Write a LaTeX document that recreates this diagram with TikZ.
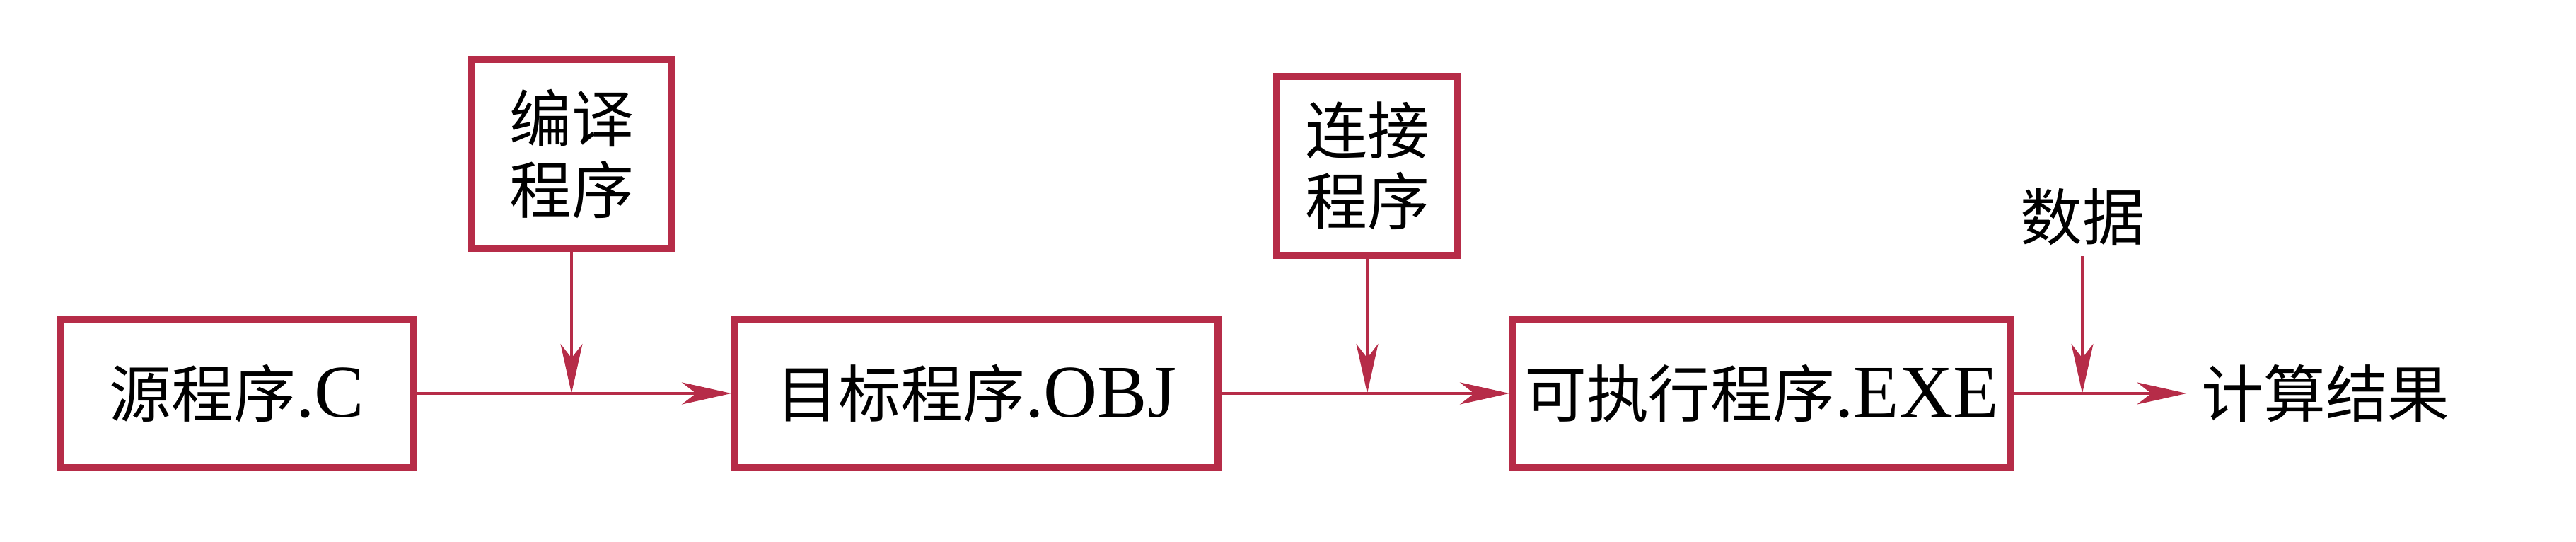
\documentclass[tikz,border=0pt]{standalone}
\usepackage{fontspec}
\setmainfont{Liberation Serif}[Scale=1.2]
\newfontfamily\cjk{Noto Sans CJK SC}
\usetikzlibrary{arrows.meta}
\definecolor{boxred}{RGB}{182,44,72}

\begin{document}
\begin{tikzpicture}[
        font=\fontsize{25}{28.5}\selectfont,
        prog/.style={draw=boxred, line width=2.8pt, minimum height=2.1cm, inner sep=0pt},
        tool/.style={draw=boxred, line width=2.8pt, align=center, inner sep=0pt, font=\fontsize{25}{28.5}\selectfont\cjk},
        flow/.style={draw=boxred, line width=1.4pt, -{Stealth[length=7mm, width=3.1mm, inset=2mm]}},
        feed/.style={draw=boxred, line width=0.9pt, -{Stealth[length=7mm, width=3.1mm, inset=2mm]}}
    ]
        \useasboundingbox (0, 0) rectangle (36.42, 7.66);

        \node[prog, minimum width=4.98cm] (source) at (3.35, 2.1) {{\cjk 源程序}.C};
        \node[prog, minimum width=6.83cm] (object) at (13.805, 2.1) {{\cjk 目标程序}.OBJ};
        \node[prog, minimum width=7.03cm] (exe) at (24.905, 2.1) {{\cjk 可执行程序}.EXE};
        \node[inner sep=0.2cm] (result) at (32.88, 2.1) {\cjk 计算结果};

        \node[tool, minimum width=2.84cm, minimum height=2.67cm] (compiler) at (8.08, 5.485) {编译\\程序};
        \node[tool, minimum width=2.56cm, minimum height=2.53cm] (linker) at (19.33, 5.315) {连接\\程序};
        \node[inner sep=0.15cm] (data) at (29.44, 4.6) {\cjk 数据};

        \coordinate (join1) at (compiler.south |- source.east);
        \coordinate (join2) at (linker.south |- object.east);
        \coordinate (join3) at (data.south |- exe.east);

        \draw [flow] (source) -- (object);
        \draw [flow] (object) -- (exe);
        \draw [flow] (exe) -- (result);

        \draw [feed] (compiler) -- (join1);
        \draw [feed] (linker) -- (join2);
        \draw [feed] (data) -- (join3);
    \end{tikzpicture}
\end{document}
